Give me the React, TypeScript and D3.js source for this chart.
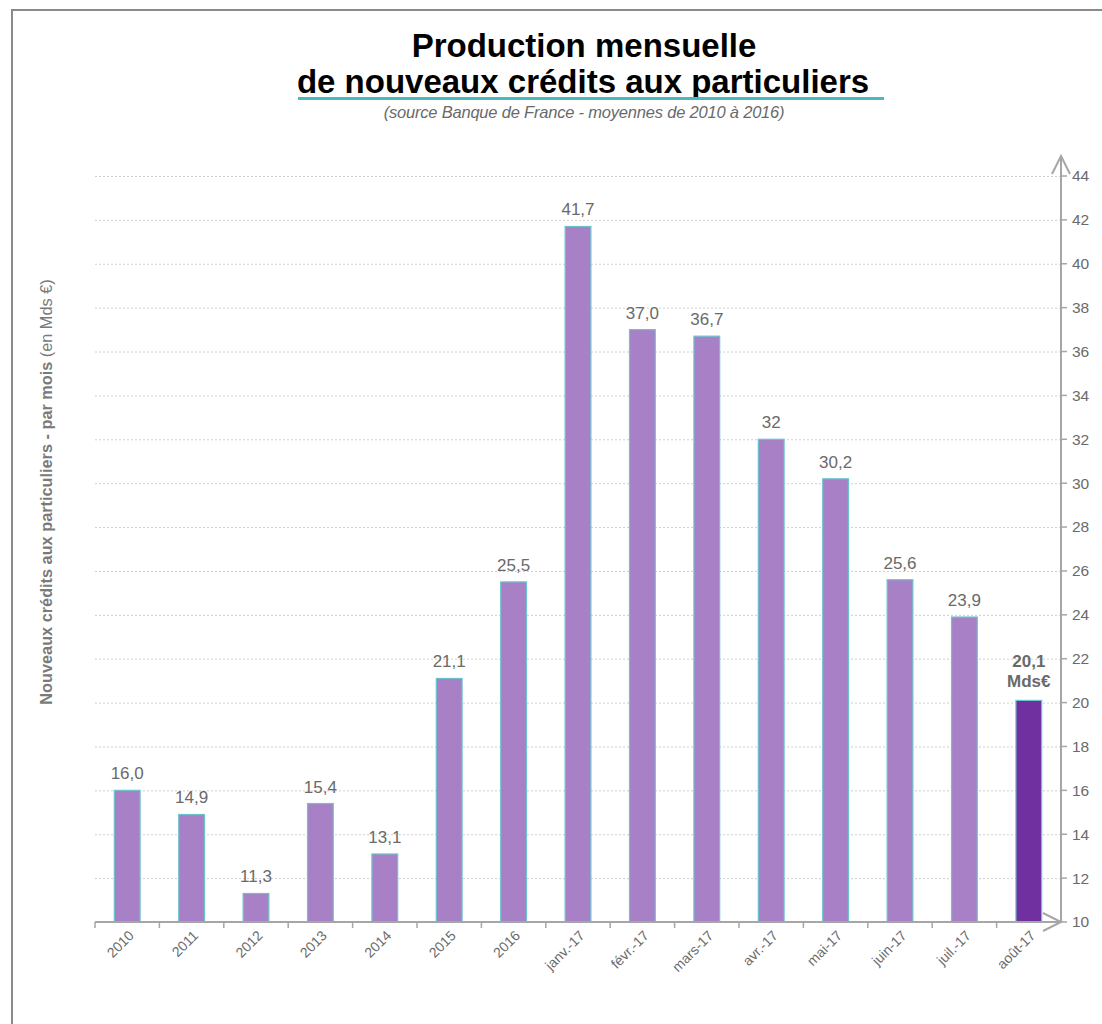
import { useEffect, useRef } from 'react';
import * as d3 from 'd3';

// Data
const CATEGORIES = ["2010", "2011", "2012", "2013", "2014", "2015", "2016", "janv.-17", "févr.-17", "mars-17", "avr.-17", "mai-17", "juin-17", "juil.-17", "août-17"];
const VALUES = [16.0, 14.9, 11.3, 15.4, 13.1, 21.1, 25.5, 41.7, 37.0, 36.7, 32, 30.2, 25.6, 23.9, 20.1];
const VALUE_LABELS = ["16,0", "14,9", "11,3", "15,4", "13,1", "21,1", "25,5", "41,7", "37,0", "36,7", "32", "30,2", "25,6", "23,9", "20,1"];
const Y_TICKS = [10, 12, 14, 16, 18, 20, 22, 24, 26, 28, 30, 32, 34, 36, 38, 40, 42, 44];

const FONT = "'Liberation Sans', Arial, sans-serif";
const COLOR_BAR = "#a880c5";
const COLOR_BAR_LAST = "#7030a0";
const COLOR_BAR_STROKE = "#6cc3cf";
const COLOR_AXIS = "#a6a6a6";
const COLOR_TEXT = "#6a6a6a";
const COLOR_GRID = "#cfcfcf";
const COLOR_UNDERLINE = "#4bb9bb";

export default function App() {
  const ref = useRef<SVGSVGElement>(null);

  useEffect(() => {
    if (!ref.current) return;
    const svg = d3.select(ref.current);
    svg.selectAll("*").remove();

    const left = 95, right = 1061, top = 176, bottom = 922;

    const x = d3.scaleBand<string>()
      .domain(CATEGORIES)
      .range([left, right])
      .paddingInner(0.6)
      .paddingOuter(0.3);

    const y = d3.scaleLinear().domain([10, 44]).range([bottom, top]);

    // frame
    svg.append("rect")
      .attr("x", 12).attr("y", 10)
      .attr("width", 1200).attr("height", 1100)
      .attr("fill", "none")
      .attr("stroke", "#8a8a8a")
      .attr("stroke-width", 2);

    // title
    const title = svg.append("g").attr("font-family", FONT).attr("text-anchor", "middle");
    title.append("text")
      .attr("x", 584).attr("y", 57)
      .attr("font-size", 33).attr("font-weight", "bold").attr("fill", "#000")
      .text("Production mensuelle");
    title.append("text")
      .attr("x", 583).attr("y", 93)
      .attr("font-size", 33).attr("font-weight", "bold").attr("fill", "#000")
      .text("de nouveaux crédits aux particuliers");
    title.append("line")
      .attr("x1", 298).attr("x2", 884)
      .attr("y1", 98.5).attr("y2", 98.5)
      .attr("stroke", COLOR_UNDERLINE).attr("stroke-width", 3);
    title.append("text")
      .attr("x", 584).attr("y", 118)
      .attr("font-size", 16.5).attr("font-style", "italic").attr("fill", COLOR_TEXT)
      .attr("letter-spacing", -0.2)
      .text("(source Banque de France - moyennes de 2010 à 2016)");

    // gridlines
    svg.append("g")
      .selectAll("line")
      .data(Y_TICKS.filter(t => t > 10))
      .join("line")
      .attr("x1", left).attr("x2", right)
      .attr("y1", d => y(d) + 0.5).attr("y2", d => y(d) + 0.5)
      .attr("stroke", COLOR_GRID)
      .attr("stroke-dasharray", "2,2");

    // bars
    svg.append("g")
      .selectAll("rect")
      .data(VALUES)
      .join("rect")
      .attr("x", (d, i) => x(CATEGORIES[i])!)
      .attr("y", d => y(d))
      .attr("width", x.bandwidth())
      .attr("height", d => bottom - y(d))
      .attr("fill", (d, i) => i === VALUES.length - 1 ? COLOR_BAR_LAST : COLOR_BAR)
      .attr("stroke", COLOR_BAR_STROKE)
      .attr("stroke-width", 1.2);

    // value labels
    const labels = svg.append("g").attr("font-family", FONT).attr("text-anchor", "middle").attr("fill", COLOR_TEXT);
    VALUES.forEach((v, i) => {
      const cx = x(CATEGORIES[i])! + x.bandwidth() / 2;
      if (i === VALUES.length - 1) {
        labels.append("text")
          .attr("x", cx).attr("y", y(v) - 33)
          .attr("font-size", 17).attr("font-weight", "bold")
          .text(VALUE_LABELS[i]);
        labels.append("text")
          .attr("x", cx).attr("y", y(v) - 13)
          .attr("font-size", 17).attr("font-weight", "bold")
          .text("Mds€");
      } else {
        labels.append("text")
          .attr("x", cx).attr("y", y(v) - 11)
          .attr("font-size", 17)
          .text(VALUE_LABELS[i]);
      }
    });

    // x axis
    const xAxis = svg.append("g");
    xAxis.append("line")
      .attr("x1", left).attr("x2", right)
      .attr("y1", bottom).attr("y2", bottom)
      .attr("stroke", COLOR_AXIS).attr("stroke-width", 2);
    xAxis.append("path")
      .attr("d", `M${right - 18},${bottom - 9}L${right},${bottom}L${right - 18},${bottom + 9}`)
      .attr("fill", "none").attr("stroke", COLOR_AXIS).attr("stroke-width", 2);
    const boundaries = CATEGORIES.map(c => x(c)! - x.step() * x.paddingInner() / 2);
    xAxis.selectAll("line.tick")
      .data(boundaries)
      .join("line")
      .attr("class", "tick")
      .attr("x1", d => d).attr("x2", d => d)
      .attr("y1", bottom).attr("y2", bottom + 6)
      .attr("stroke", COLOR_AXIS).attr("stroke-width", 1.5);
    xAxis.selectAll("text")
      .data(CATEGORIES)
      .join("text")
      .attr("transform", d => `translate(${x(d)! + x.bandwidth() / 2 + 4},${bottom + 11}) rotate(-45)`)
      .attr("text-anchor", "end")
      .attr("dy", "0.35em")
      .attr("font-family", FONT)
      .attr("font-size", 14)
      .attr("fill", COLOR_TEXT)
      .text(d => d);

    // y axis on the right
    const yAxis = svg.append("g");
    yAxis.append("line")
      .attr("x1", right).attr("x2", right)
      .attr("y1", bottom).attr("y2", top - 20)
      .attr("stroke", COLOR_AXIS).attr("stroke-width", 2);
    yAxis.append("path")
      .attr("d", `M${right - 9},${top - 2}L${right},${top - 20}L${right + 9},${top - 2}`)
      .attr("fill", "none").attr("stroke", COLOR_AXIS).attr("stroke-width", 2);
    yAxis.selectAll("line.tick")
      .data(Y_TICKS)
      .join("line")
      .attr("class", "tick")
      .attr("x1", right).attr("x2", right + 6)
      .attr("y1", d => y(d)).attr("y2", d => y(d))
      .attr("stroke", COLOR_AXIS).attr("stroke-width", 1.5);
    yAxis.selectAll("text")
      .data(Y_TICKS)
      .join("text")
      .attr("x", right + 11)
      .attr("y", d => y(d))
      .attr("dy", "0.35em")
      .attr("font-family", FONT)
      .attr("font-size", 15.5)
      .attr("fill", COLOR_TEXT)
      .text(d => String(d));

    // y axis title
    const yTitle = svg.append("text")
      .attr("transform", `translate(52,492) rotate(-90)`)
      .attr("text-anchor", "middle")
      .attr("font-family", FONT)
      .attr("font-size", 16.3)
      .attr("fill", "#7a7a7a");
    yTitle.append("tspan").attr("font-weight", "bold").text("Nouveaux crédits aux particuliers - par mois ");
    yTitle.append("tspan").text("(en Mds €)");
  }, []);

  return (
    <>
      <style>{`body{margin:0;}`}</style>
      <svg ref={ref} width={1102} height={1024} style={{ display: 'block', background: '#fff' }} />
    </>
  );
}
